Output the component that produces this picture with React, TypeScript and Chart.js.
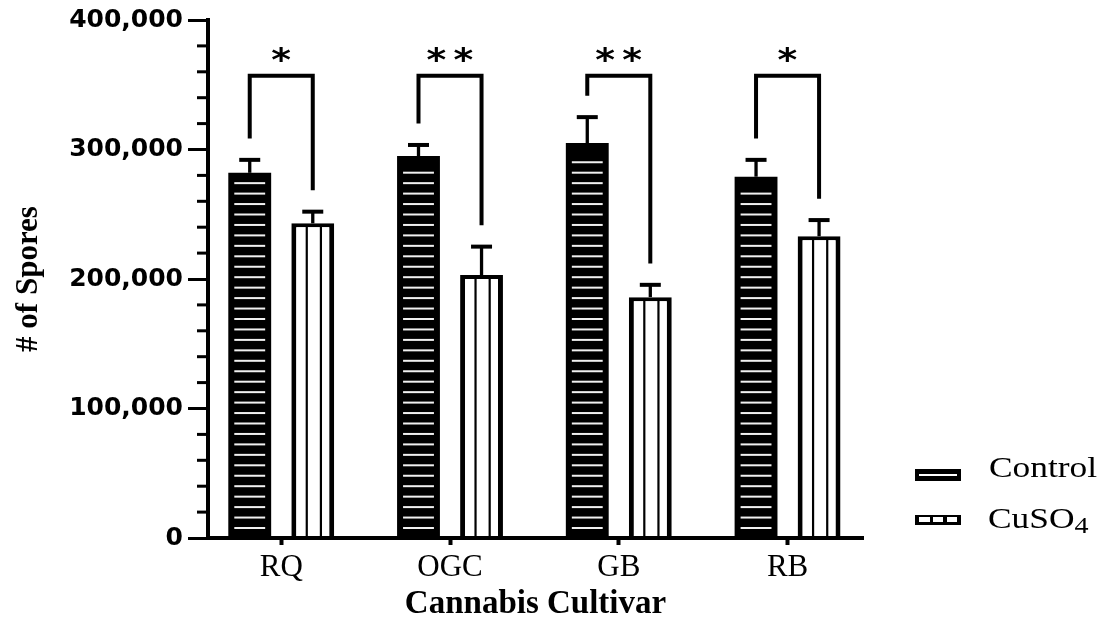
import React, { useEffect, useRef } from 'react';
import { Chart, registerables } from 'chart.js';

Chart.register(...registerables);

// ---------- data ----------
const categories = ['RQ', 'OGC', 'GB', 'RB'];
const controlMeans = [282000, 295000, 305000, 279000];
const controlSem = [10000, 8500, 20000, 13000];
const cuso4Means = [243000, 203000, 186000, 233000];
const cuso4Sem = [9000, 22000, 9500, 12500];
const sigLabels = ['*', '**', '**', '*'];
const bracketTops = [357000, 357000, 357000, 357000];
const bracketGap = 16500;
const yMin = 0;
const yMax = 400000;
const yMajorStep = 100000;
const yMinorStep = 20000;
const xTitle = 'Cannabis Cultivar';
const yTitle = '# of Spores';
const legendControl = 'Control';
const legendCuMain = 'CuSO';
const legendCuSub = '4';

const SERIF = '"Liberation Serif", "Times New Roman", serif';
const SANS = '"DejaVu Sans", sans-serif';
const STRETCH = 1.22;

function fmt(v: number) {
  return String(Math.round(v)).replace(/\B(?=(\d{3})+(?!\d))/g, ',');
}

function stretchedText(ctx: CanvasRenderingContext2D, text: string, x: number, y: number, font: string, k: number) {
  ctx.save();
  ctx.font = font;
  ctx.textAlign = 'left';
  ctx.textBaseline = 'alphabetic';
  const w = ctx.measureText(text).width * k;
  ctx.translate(x, y);
  ctx.scale(k, 1);
  ctx.fillStyle = '#000';
  ctx.fillText(text, 0, 0);
  ctx.restore();
  return w;
}

function drawStar(ctx: CanvasRenderingContext2D, cx: number, cy: number, w: number, h: number) {
  ctx.save();
  ctx.font = `bold 32px ${SANS}`;
  ctx.textAlign = 'left';
  ctx.textBaseline = 'alphabetic';
  const m = ctx.measureText('*');
  const bw = m.actualBoundingBoxLeft + m.actualBoundingBoxRight;
  const bh = m.actualBoundingBoxAscent + m.actualBoundingBoxDescent;
  ctx.translate(cx, cy);
  ctx.scale(w / bw, h / bh);
  ctx.fillStyle = '#000';
  ctx.fillText('*', -(m.actualBoundingBoxRight - m.actualBoundingBoxLeft) / 2, (m.actualBoundingBoxAscent - m.actualBoundingBoxDescent) / 2);
  ctx.restore();
}

const overlayPlugin = {
  id: 'overlay',
  afterDatasetsDraw(chart: any) {
    const ctx: CanvasRenderingContext2D = chart.ctx;
    const ys = chart.scales.y;
    const m0 = chart.getDatasetMeta(0);
    const m1 = chart.getDatasetMeta(1);
    ctx.save();
    // control pattern: horizontal light lines
    m0.data.forEach((bar: any) => {
      const { x, y, base, width } = bar.getProps(['x', 'y', 'base', 'width'], true);
      const left = x - width / 2;
      ctx.fillStyle = '#f0f0f0';
      for (let ly = base - 9.5; ly >= y + 9; ly -= 10.45) {
        ctx.fillRect(left + 6, ly - 1, width - 12, 2);
      }
    });
    // CuSO4 pattern: vertical dark lines
    m1.data.forEach((bar: any) => {
      const { x, y, base, width } = bar.getProps(['x', 'y', 'base', 'width'], true);
      const left = x - width / 2;
      ctx.fillStyle = '#000';
      [0.36, 0.69].forEach((f) => {
        ctx.fillRect(left + width * f - 1.1, y + 3, 2.2, base - y - 3);
      });
    });
    // error bars
    const errs = [controlSem, cuso4Sem];
    const means = [controlMeans, cuso4Means];
    [m0, m1].forEach((meta: any, di: number) => {
      meta.data.forEach((bar: any, i: number) => {
        const { x, y } = bar.getProps(['x', 'y'], true);
        const py = ys.getPixelForValue(means[di][i] + errs[di][i]);
        ctx.strokeStyle = '#000';
        ctx.lineWidth = 3.3;
        ctx.beginPath();
        ctx.moveTo(x, y);
        ctx.lineTo(x, py);
        ctx.stroke();
        ctx.lineWidth = 4;
        ctx.beginPath();
        ctx.moveTo(x - 10.5, py);
        ctx.lineTo(x + 10.5, py);
        ctx.stroke();
      });
    });
    // significance brackets
    categories.forEach((_, i) => {
      const xl = m0.data[i].x;
      const xr = m1.data[i].x;
      const yt = ys.getPixelForValue(bracketTops[i]);
      const yl = ys.getPixelForValue(controlMeans[i] + controlSem[i] + bracketGap);
      const yr = ys.getPixelForValue(cuso4Means[i] + cuso4Sem[i] + bracketGap);
      ctx.strokeStyle = '#000';
      ctx.lineWidth = 4;
      ctx.lineJoin = 'miter';
      ctx.lineCap = 'butt';
      ctx.beginPath();
      ctx.moveTo(xl, yl);
      ctx.lineTo(xl, yt);
      ctx.lineTo(xr, yt);
      ctx.lineTo(xr, yr);
      ctx.stroke();
      const label = sigLabels[i];
      const cx = (xl + xr) / 2;
      const n = label.length;
      for (let j = 0; j < n; j++) {
        drawStar(ctx, cx + (j - (n - 1) / 2) * 27, yt - 21, 20, 14.7);
      }
    });
    ctx.restore();
  },
  afterDraw(chart: any) {
    const ctx: CanvasRenderingContext2D = chart.ctx;
    const ys = chart.scales.y;
    const left = chart.chartArea.left;
    ctx.save();
    // minor ticks
    ctx.fillStyle = '#000';
    for (let v = yMin + yMinorStep; v < yMax; v += yMinorStep) {
      if (v % yMajorStep === 0) continue;
      const py = ys.getPixelForValue(v);
      ctx.fillRect(left - 11, py - 1.5, 10, 3);
    }
    // legend
    ctx.fillStyle = '#000';
    ctx.fillRect(915, 469, 46, 12);
    ctx.fillStyle = '#fff';
    ctx.fillRect(919, 474, 38, 2);
    stretchedText(ctx, legendControl, 989, 477, `29px ${SERIF}`, STRETCH);

    ctx.fillStyle = '#000';
    ctx.fillRect(915, 515, 46, 10);
    ctx.fillStyle = '#fff';
    [[919, 930], [933, 943], [947, 957]].forEach(([a, b]) => ctx.fillRect(a, 517, b - a, 5));
    const w = stretchedText(ctx, legendCuMain, 988, 527.5, `29px ${SERIF}`, STRETCH);
    stretchedText(ctx, legendCuSub, 988 + w, 533, `23px ${SERIF}`, STRETCH);
    ctx.restore();
  },
};

export default function App() {
  const ref = useRef<HTMLCanvasElement>(null);
  useEffect(() => {
    const canvas = ref.current!;
    const chart = new Chart(canvas, {
      type: 'bar',
      data: {
        datasets: [
          {
            label: 'Control',
            data: controlMeans.map((v, i) => ({ x: i + 1, y: v })),
            backgroundColor: '#000',
            borderWidth: 0,
            barPercentage: 0.68,
            categoryPercentage: 0.747,
          },
          {
            label: 'CuSO4',
            data: cuso4Means.map((v, i) => ({ x: i + 1, y: v })),
            backgroundColor: '#fff',
            borderColor: '#000',
            borderWidth: { top: 4, left: 5, right: 5, bottom: 0 },
            borderSkipped: 'start',
            barPercentage: 0.68,
            categoryPercentage: 0.747,
          },
        ],
      } as any,
      options: {
        responsive: false,
        animation: false,
        devicePixelRatio: 1,
        layout: { padding: { top: 20, right: 243, left: 0, bottom: 0 } },
        plugins: { legend: { display: false }, tooltip: { enabled: false } },
        scales: {
          x: {
            type: 'linear',
            min: 0.566,
            max: 4.447,
            offset: false,
            afterBuildTicks: (s: any) => {
              s.ticks = categories.map((_, i) => ({ value: i + 1 }));
            },
            afterFit: (s: any) => {
              s.height = 93;
            },
            grid: {
              display: true,
              offset: false,
              drawOnChartArea: false,
              drawTicks: true,
              tickLength: 7,
              tickWidth: 4,
              tickColor: '#000',
              color: '#000',
            },
            border: { display: true, color: '#000', width: 4, z: 1 },
            ticks: {
              autoSkip: false,
              maxRotation: 0,
              padding: 4,
              color: '#000',
              font: { family: SERIF, size: 31 },
              callback: (v: any) => categories[Math.round(Number(v)) - 1] ?? '',
            },
            title: {
              display: true,
              text: xTitle,
              color: '#000',
              font: { family: SERIF, size: 33, weight: 'bold' },
              padding: { top: 0, bottom: 7 },
            },
          },
          y: {
            type: 'linear',
            min: yMin,
            max: yMax,
            afterFit: (s: any) => {
              s.width = 208;
            },
            ticks: {
              stepSize: yMajorStep,
              padding: 5,
              color: '#000',
              font: { family: SANS, size: 25, weight: 'bold' },
              callback: (v: any) => fmt(Number(v)),
            },
            grid: {
              drawOnChartArea: false,
              drawTicks: true,
              tickLength: 20,
              tickWidth: 3,
              tickColor: '#000',
              color: '#000',
            },
            border: { display: true, color: '#000', width: 4, z: 1 },
            title: {
              display: true,
              text: yTitle,
              color: '#000',
              font: { family: SERIF, size: 31, weight: 'bold' },
              padding: { top: 10, bottom: 0 },
            },
          },
        },
      } as any,
      plugins: [overlayPlugin],
    });
    return () => chart.destroy();
  }, []);
  return (
    <div style={{ position: 'fixed', left: 0, top: 0, width: 1106, height: 631, background: '#fff' }}>
      <canvas ref={ref} width={1106} height={631} style={{ display: 'block', width: 1106, height: 631 }} />
    </div>
  );
}
